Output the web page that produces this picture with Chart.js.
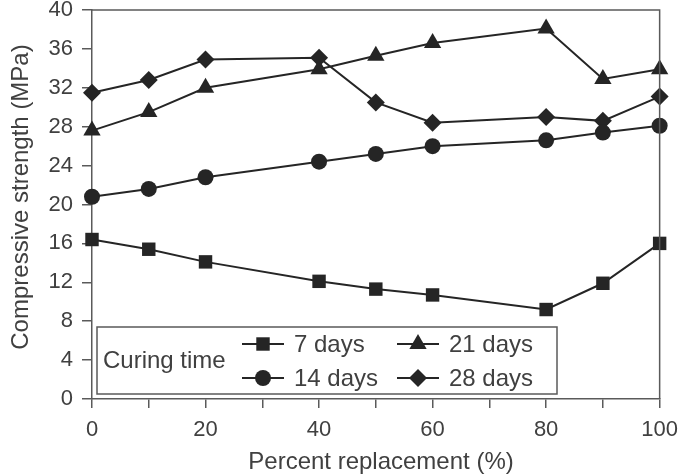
<!DOCTYPE html>
<html>
<head>
<meta charset="utf-8">
<script src="https://cdn.jsdelivr.net/npm/chart.js@4.4.1/dist/chart.umd.min.js"></script>
<style>
  html, body { margin: 0; padding: 0; background: #ffffff; }
  #wrap { width: 687px; height: 475px; position: relative; }
</style>
</head>
<body>
<div id="wrap"><canvas id="c" width="687" height="475"></canvas></div>
<script>
// ---- data ----
const percentReplacement = [0, 10, 20, 40, 50, 60, 80, 90, 100];
const days7  = [16.4, 15.4, 14.1, 12.1, 11.3, 10.7, 9.2, 11.9, 16.0];
const days14 = [20.8, 21.6, 22.8, 24.4, 25.2, 26.0, 26.6, 27.4, 28.1];
const days21 = [27.6, 29.5, 32.0, 33.9, 35.3, 36.6, 38.1, 32.9, 33.9];
const days28 = [31.5, 32.8, 34.9, 35.1, 30.5, 28.4, 29.0, 28.6, 31.1];
const seriesLabels = ['7 days', '14 days', '21 days', '28 days'];
const xTickLabels = [0, 20, 40, 60, 80, 100];
const yTickLabels = [0, 4, 8, 12, 16, 20, 24, 28, 32, 36, 40];
const legendTitle = 'Curing time';
const xTitle = 'Percent replacement (%)';
const yTitle = 'Compressive strength (MPa)';

const FONT = "'Liberation Sans', Arial, Helvetica, sans-serif";
const TEXT = '#404040';
const AXIS = '#5a5a5a';
const MARK = '#252525';

const styles = [
  { pointStyle: 'rect', radius: 9.5 },
  { pointStyle: 'circle', radius: 8 },
  { pointStyle: 'triangle', radius: 10 },
  { pointStyle: 'rectRot', radius: 9 }
];
const seriesValues = [days7, days14, days21, days28];

const datasets = seriesValues.map((vals, i) => ({
  label: seriesLabels[i],
  data: percentReplacement.map((x, j) => ({ x: x, y: vals[j] })),
  borderColor: MARK,
  backgroundColor: MARK,
  borderWidth: 2,
  pointStyle: styles[i].pointStyle,
  pointRadius: styles[i].radius,
  pointHoverRadius: styles[i].radius,
  pointBorderWidth: 0,
  pointBackgroundColor: MARK,
  pointBorderColor: MARK,
  tension: 0,
  clip: false
}));

const frameAndLegend = {
  id: 'frameAndLegend',
  afterDatasetsDraw(chart) {
    const ctx = chart.ctx;
    const a = chart.chartArea;
    ctx.save();
    // plot frame (top & right sides)
    ctx.strokeStyle = AXIS;
    ctx.lineWidth = 1.5;
    ctx.beginPath();
    ctx.moveTo(a.left, a.top);
    ctx.lineTo(a.right, a.top);
    ctx.lineTo(a.right, a.bottom);
    ctx.stroke();

    // axis titles
    ctx.fillStyle = TEXT;
    ctx.font = '24px ' + FONT;
    ctx.textAlign = 'center';
    ctx.textBaseline = 'middle';
    ctx.fillText(xTitle, 381, 462);
    ctx.save();
    ctx.translate(21, 197);
    ctx.rotate(-Math.PI / 2);
    ctx.fillText(yTitle, 0, 0);
    ctx.restore();

    // legend box
    const bx = 97, by = 327, bw = 460, bh = 67;
    ctx.fillStyle = '#ffffff';
    ctx.fillRect(bx, by, bw, bh);
    ctx.strokeStyle = AXIS;
    ctx.lineWidth = 1.5;
    ctx.strokeRect(bx, by, bw, bh);

    ctx.fillStyle = TEXT;
    ctx.font = '24px ' + FONT;
    ctx.textBaseline = 'middle';
    ctx.textAlign = 'left';
    ctx.fillText(legendTitle, 103, 361);

    const cols = [242, 397];
    const rows = [344, 378];
    const order = [[0, 0, 0], [1, 0, 1], [2, 1, 0], [3, 1, 1]];
    order.forEach(([i, c, r]) => {
      const x0 = cols[c], y0 = rows[r];
      ctx.strokeStyle = MARK;
      ctx.lineWidth = 2;
      ctx.beginPath();
      ctx.moveTo(x0, y0);
      ctx.lineTo(x0 + 42, y0);
      ctx.stroke();
      ctx.fillStyle = MARK;
      Chart.helpers.drawPoint(ctx, {
        pointStyle: styles[i].pointStyle,
        radius: styles[i].radius,
        rotation: 0,
        borderWidth: 0
      }, x0 + 21, y0);
      ctx.fillStyle = TEXT;
      ctx.fillText(seriesLabels[i], x0 + 52, y0 + 1);
    });
    ctx.restore();
  }
};

new Chart(document.getElementById('c'), {
  type: 'line',
  data: { datasets: datasets },
  options: {
    responsive: false,
    animation: false,
    devicePixelRatio: 1,
    layout: { padding: { top: 0, right: 27, left: 0, bottom: 0 } },
    plugins: { legend: { display: false }, tooltip: { enabled: false } },
    scales: {
      x: {
        type: 'linear',
        min: 0, max: 100,
        afterFit(s) { s.height = 76; },
        afterBuildTicks(s) {
          const t = [];
          for (let v = 0; v <= 100; v += 10) t.push({ value: v });
          s.ticks = t;
        },
        ticks: {
          autoSkip: false,
          maxRotation: 0,
          padding: 9,
          color: TEXT,
          font: { family: FONT, size: 22 },
          callback: (v) => xTickLabels.includes(v) ? String(v) : ''
        },
        grid: { drawOnChartArea: false, drawTicks: true, tickLength: 9, color: AXIS, lineWidth: 1.5 },
        border: { display: true, color: AXIS, width: 1.5 }
      },
      y: {
        type: 'linear',
        min: 0, max: 40,
        afterFit(s) { s.width = 92; s.paddingTop = 10; s.paddingBottom = 0; },
        afterBuildTicks(s) { s.ticks = yTickLabels.map(v => ({ value: v })); },
        ticks: {
          autoSkip: false,
          padding: 9,
          color: TEXT,
          font: { family: FONT, size: 22 }
        },
        grid: { drawOnChartArea: false, drawTicks: true, tickLength: 10, color: AXIS, lineWidth: 1.5 },
        border: { display: true, color: AXIS, width: 1.5 }
      }
    }
  },
  plugins: [frameAndLegend]
});
</script>
</body>
</html>
